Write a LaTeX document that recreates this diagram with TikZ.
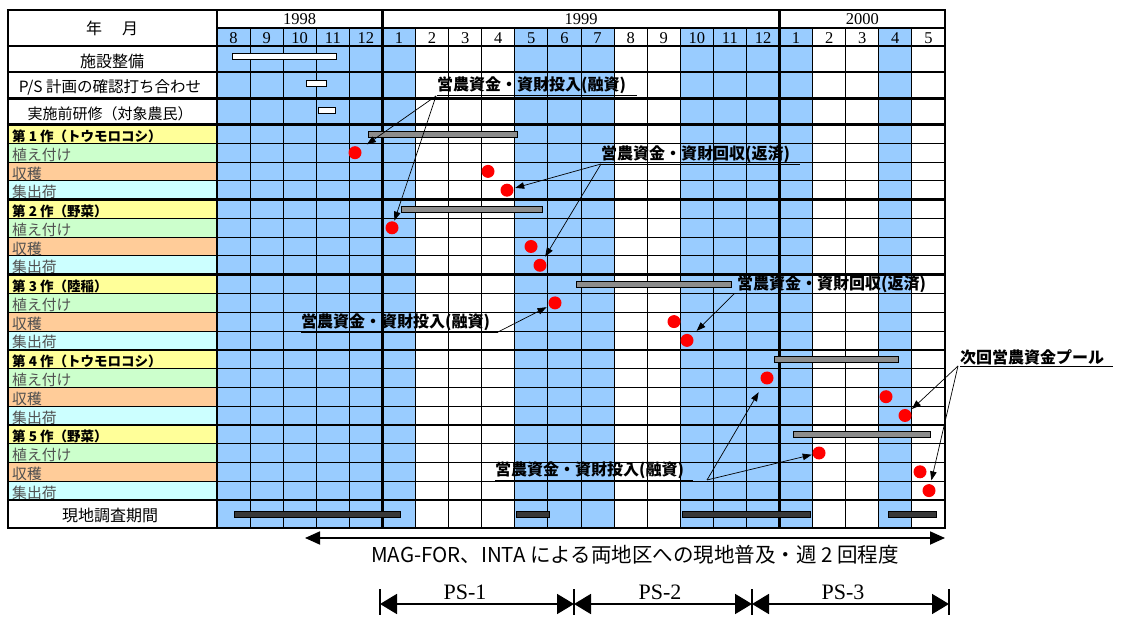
\documentclass[tikz,border=0pt]{standalone}
\usepackage{fontspec}
\setmainfont{Liberation Serif}
\newfontfamily\jp{Noto Sans CJK JP}
\usetikzlibrary{arrows.meta}
\definecolor{cblue}{HTML}{99CCFF}
\definecolor{cyel}{HTML}{FFFF99}
\definecolor{cgrn}{HTML}{CCFFCC}
\definecolor{corg}{HTML}{FFCC99}
\definecolor{ccyn}{HTML}{CCFFFF}
\definecolor{cbar}{HTML}{8C8C8C}
\definecolor{cdark}{HTML}{383838}
\definecolor{ctxt}{HTML}{505050}
\begin{document}
\begin{tikzpicture}[x=1pt,y=-1pt,
  gthin/.style={line width=1pt},
  gthick/.style={line width=2.5pt},
  lab/.style={font=\jp\fontsize{15}{17}\selectfont, inner sep=0},
  labbig/.style={font=\jp\fontsize{16}{18}\selectfont, inner sep=0},
  croplab/.style={font=\jp\bfseries\fontsize{13.5}{15}\selectfont, anchor=base west, inner sep=0},
  sublab/.style={font=\jp\fontsize{14.8}{16}\selectfont, text=ctxt, anchor=base west, inner sep=0},
  yr/.style={font=\fontsize{16.5}{18}\selectfont, inner sep=0},
  mon/.style={font=\fontsize{16.5}{18}\selectfont, inner sep=0},
  ann/.style={font=\jp\bfseries\fontsize{16}{18}\selectfont, inner xsep=0, inner ysep=1pt, anchor=south west},
  reddot/.style={circle, fill=red, minimum size=13pt, inner sep=0, outer sep=0},
  arr/.style={line width=0.7pt, -{Triangle[length=9pt,width=6.5pt]}},
  wbar/.style={draw=black, fill=white, line width=0.8pt},
  gbar/.style={draw=black, fill=cbar, line width=0.8pt},
  dbar/.style={draw=black, fill=cdark, line width=0.8pt},
  longspan/.style={line width=1.8pt, {Triangle[length=15pt,width=13pt]}-{Triangle[length=15pt,width=13pt]}},
  psspan/.style={line width=1.8pt, {Triangle[length=17pt,width=20pt]}-{Triangle[length=17pt,width=20pt]}},
  pslab/.style={font=\fontsize{22}{24}\selectfont, inner sep=0},
]
\useasboundingbox (0,0) rectangle (1122,617);
\fill[white] (0,0) rectangle (1122,617);
\def\W{33.0909}
% blue month columns
\foreach \c in {0,1,2,3,4,5,9,10,11,14,15,16,17,20}
  \fill[cblue] ({217+\W*\c},28) rectangle ({217+\W*(\c+1)},528);
% label column fills
\foreach \g in {0,...,4}{
  \fill[cyel] (8,{124.5+75.1*\g}) rectangle (217,{124.5+75.1*\g+18.775});
  \fill[cgrn] (8,{124.5+75.1*\g+18.775}) rectangle (217,{124.5+75.1*\g+37.55});
  \fill[corg] (8,{124.5+75.1*\g+37.55}) rectangle (217,{124.5+75.1*\g+56.325});
  \fill[ccyn] (8,{124.5+75.1*\g+56.325}) rectangle (217,{124.5+75.1*\g+75.1});
}
% thin grid lines
\foreach \i in {1,2,3,5,6,7,9,10,11,13,14,15,17,18,19}
  \draw[gthin] (8,{124.5+18.775*\i}) -- (945,{124.5+18.775*\i});
\foreach \i in {1,2,3,4,6,7,8,9,10,11,12,13,14,15,16,18,19,20,21}
  \draw[gthin] ({217+\W*\i},28) -- ({217+\W*\i},528);
\draw[line width=1.3pt] (217,28) -- (945,28);
% thick grid lines
\foreach \y in {10,46,72,98.5,124.5,199.6,274.7,349.8,424.9,500,528}
  \draw[gthick] (6.75,\y) -- (946.25,\y);
\foreach \x in {8,217,382.45,779.55,945}
  \draw[gthick] (\x,10) -- (\x,528);
% header texts
\node[labbig] (hdr) at (112,28) {年\hspace{20pt}月};
\node[yr] (y98) at ({217+2.5*\W},19.5) {1998};
\node[yr] (y99) at ({217+11*\W},19.5) {1999};
\node[yr] (y00) at ({217+19.5*\W},19.5) {2000};
\foreach \m [count=\i from 0] in {8,9,10,11,12,1,2,3,4,5,6,7,8,9,10,11,12,1,2,3,4,5}
  \node[mon] (m\i) at ({217+\W*(\i+0.5)},38) {\m};
% row labels
\node[labbig] (r1) at (112,61) {施設整備};
\node[font=\jp\fontsize{15.5}{17}\selectfont, inner sep=0] (r2) at (110,87.5) {P/S 計画の確認打ち合わせ};
\node[lab] (r3) at (110,114) {実施前研修（対象農民）};
\node[labbig] (r4) at (110,515.5) {現地調査期間};
\foreach \g/\t in {0/{第 1 作（トウモロコシ）},1/{第 2 作（野菜）},2/{第 3 作（陸稲）},3/{第 4 作（トウモロコシ）},4/{第 5 作（野菜）}}{
  \node[croplab] (cl\g) at (12,{124.5+75.1*\g+17}) {\t};
  \node[sublab] (sp\g) at (12,{124.5+75.1*\g+35.8}) {植え付け};
  \node[sublab] (sh\g) at (12,{124.5+75.1*\g+54.6}) {収穫};
  \node[sublab] (ss\g) at (12,{124.5+75.1*\g+73.3}) {集出荷};
}
% bars
\draw[wbar] (232,53) rectangle (336,59);
\draw[wbar] (306,80) rectangle (326,86);
\draw[wbar] (318,107) rectangle (335,113);
\draw[gbar] (368,131) rectangle (517,137);
\draw[gbar] (401,206) rectangle (542,212);
\draw[gbar] (576,281.5) rectangle (731,287.5);
\draw[gbar] (774,356.5) rectangle (898,362.5);
\draw[gbar] (793,431.5) rectangle (930,437.5);
\draw[dbar] (234,511) rectangle (400,517);
\draw[dbar] (516,511) rectangle (549,517);
\draw[dbar] (682,511) rectangle (810,517);
\draw[dbar] (888,511) rectangle (936,517);
% dots
\node[reddot] (c1p) at (355,152.7) {};
\node[reddot] (c1h) at (488,171.4) {};
\node[reddot] (c1s) at (507,190.2) {};
\node[reddot] (c2p) at (392,227.8) {};
\node[reddot] (c2h) at (531,246.5) {};
\node[reddot] (c2s) at (540,265.3) {};
\node[reddot] (c3p) at (555,302.9) {};
\node[reddot] (c3h) at (674,321.6) {};
\node[reddot] (c3s) at (687,340.4) {};
\node[reddot] (c4p) at (767,378) {};
\node[reddot] (c4h) at (886,396.7) {};
\node[reddot] (c4s) at (905,415.5) {};
\node[reddot] (c5p) at (819,453) {};
\node[reddot] (c5h) at (920,471.8) {};
\node[reddot] (c5s) at (929,490.6) {};
% annotations
\node[ann] (a1) at (437,95) {営農資金・資財投入(融資)};
\node[ann] (a2) at (601,164) {営農資金・資財回収(返済)};
\node[ann] (a3) at (737,294) {営農資金・資財回収(返済)};
\node[ann] (a4) at (301,332) {営農資金・資財投入(融資)};
\node[ann] (a5) at (495,480) {営農資金・資財投入(融資)};
\node[ann] (a6) at (960,366) {次回営農資金プール};
\draw[line width=0.9pt] (437,95) -- (637,95);
\draw[line width=0.9pt] (601,164) -- (800,164);
\draw[line width=0.9pt] (301,332) -- (498,332);
\draw[line width=0.9pt] (495,480) -- (693,480);
\draw[line width=0.9pt] (960,366) -- (1113,366);
\coordinate (a1o) at (436,96);
\coordinate (a2o) at (601,164);
\coordinate (a3o) at (734,294);
\coordinate (a4o) at (498,332);
\coordinate (a5o) at (707,480);
\coordinate (a6o) at (958,366);
\draw[arr, shorten >=8pt] (a1o) -- (c1p);
\draw[arr, shorten >=1pt] (a1o) -- (c2p);
\draw[arr, shorten >=2pt] (a2o) -- (c1s);
\draw[arr, shorten >=3.5pt] (a2o) -- (c2s);
\draw[arr, shorten >=7pt] (a3o) -- (c3s);
\draw[arr, shorten >=3pt] (a4o) -- (c3p);
\draw[arr, shorten >=10pt] (a5o) -- (c4p);
\draw[arr, shorten >=1pt] (a5o) -- (c5p);
\draw[arr, shorten >=3pt] (a6o) -- (c4s);
\draw[arr, shorten >=4pt] (a6o) -- (c5s);
% bottom spans
\coordinate (L0) at (305,538);
\coordinate (L1) at (945,538);
\draw[longspan] (L0) -- (L1);
\node[font=\jp\fontsize{20.5}{22}\selectfont, inner sep=0] (mag) at (635,555) {MAG-FOR、INTA による両地区への現地普及・週 2 回程度};
\coordinate (p0) at (380,604);
\coordinate (p1) at (574,604);
\coordinate (p2) at (752,604);
\coordinate (p3) at (949,604);
\foreach \p in {p0,p1,p2,p3}
  \draw[line width=1.5pt] (\p) ++(0,-15) -- ++(0,26);
\draw[psspan] (p0) -- (p1);
\draw[psspan] (p1) -- (p2);
\draw[psspan] (p2) -- (p3);
\node[pslab] (ps1) at (465,592) {PS-1};
\node[pslab] (ps2) at (660,592) {PS-2};
\node[pslab] (ps3) at (843,592) {PS-3};
\end{tikzpicture}
\end{document}
